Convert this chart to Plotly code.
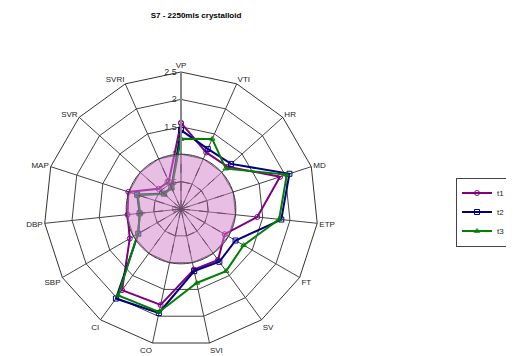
import numpy as np
import plotly.graph_objects as go

title = "S7 - 2250mls crystalloid"
categories = ["VP", "VTI", "HR", "MD", "ETP", "FT", "SV", "SVI", "CO", "CI",
              "SBP", "DBP", "MAP", "SVR", "SVRI"]
t1 = [1.57, 1.13, 1.15, 1.90, 1.40, 0.92, 1.15, 1.13, 1.79, 1.83, 1.08, 0.98, 1.01, 0.55, 0.55]
t2 = [1.44, 1.20, 1.23, 2.08, 1.84, 1.15, 1.19, 1.16, 1.94, 2.02, 0.90, 0.76, 0.84, 0.42, 0.43]
t3 = [1.28, 1.40, 1.10, 2.03, 1.80, 1.32, 1.40, 1.38, 1.92, 1.95, 0.91, 0.75, 0.83, 0.41, 0.42]
series_names = ["t1", "t2", "t3"]
radial_ticks = [0, 0.5, 1, 1.5, 2, 2.5]
baseline = 1.0

colors = ["#800080", "#000080", "#008000"]
symbols = ["circle-open", "square-open", "triangle-up-open"]

fig = go.Figure()
for name, vals, col, sym in zip(series_names, [t1, t2, t3], colors, symbols):
    fig.add_trace(go.Scatterpolar(
        r=vals + vals[:1], theta=categories + categories[:1],
        mode="lines+markers", name=name,
        line=dict(color=col, width=2),
        marker=dict(symbol=sym, size=5, color=col, line=dict(width=1)),
        subplot="polar"))

# baseline disc on overlay polar
circ_theta = np.linspace(0, 360, 241)
fig.add_trace(go.Scatterpolar(
    r=[baseline] * len(circ_theta), theta=circ_theta, mode="lines",
    fill="toself", fillcolor="rgba(209,125,201,0.5)",
    line=dict(color="#333333", width=1), showlegend=False, hoverinfo="skip",
    subplot="polar2"))
n = len(categories)
spoke_r, spoke_t = [], []
for k in range(n):
    spoke_r += [0, baseline, None]
    spoke_t += [k * 360 / n, k * 360 / n, None]
fig.add_trace(go.Scatterpolar(
    r=spoke_r, theta=spoke_t, mode="lines",
    line=dict(color="#6a4a66", width=1, dash="dash"),
    showlegend=False, hoverinfo="skip", subplot="polar2", connectgaps=False))
half_t = [k * 360 / n for k in range(n + 1)]
fig.add_trace(go.Scatterpolar(
    r=[baseline / 2] * (n + 1), theta=half_t, mode="lines",
    line=dict(color="#6a4a66", width=1, dash="dash"),
    showlegend=False, hoverinfo="skip", subplot="polar2"))

W, H = 506, 348
dom_x = [36 / W, 310 / W]
dom_y = [10 / H, 284 / H]
fig.update_layout(
    width=W, height=H,
    margin=dict(l=0, r=0, t=0, b=0, autoexpand=False),
    paper_bgcolor="white",
    font=dict(family="Liberation Sans, Arial, sans-serif", size=8, color="#222"),
    title=dict(text="<b>" + title + "</b>", x=188 / W, xanchor="center",
               y=1 - 7 / H, yanchor="middle", font=dict(size=8, color="black")),
    polar=dict(
        domain=dict(x=dom_x, y=dom_y),
        bgcolor="white",
        gridshape="linear",
        angularaxis=dict(direction="clockwise", rotation=90, categoryorder="array",
                         categoryarray=categories, showline=True, linecolor="#333",
                         linewidth=1, gridcolor="#444", gridwidth=1, ticks="",
                         tickfont=dict(size=8, color="#222")),
        radialaxis=dict(range=[0, 2.5], tickvals=radial_ticks, angle=90,
                        tickangle=90, side="counterclockwise",
                        showline=True, linecolor="#888", linewidth=2,
                        gridcolor="#444", gridwidth=1, ticks="",
                        tickfont=dict(size=9, color="#333")),
    ),
    polar2=dict(
        domain=dict(x=dom_x, y=dom_y),
        bgcolor="rgba(0,0,0,0)",
        angularaxis=dict(visible=False, direction="clockwise", rotation=90),
        radialaxis=dict(visible=False, range=[0, 2.5]),
    ),
    legend=dict(x=503 / W, y=1 - 204 / H, xanchor="right", yanchor="middle",
                bordercolor="#444", borderwidth=1, font=dict(size=8),
                itemwidth=30, tracegroupgap=0, bgcolor="white"),
)
fig.write_html("out.html")
